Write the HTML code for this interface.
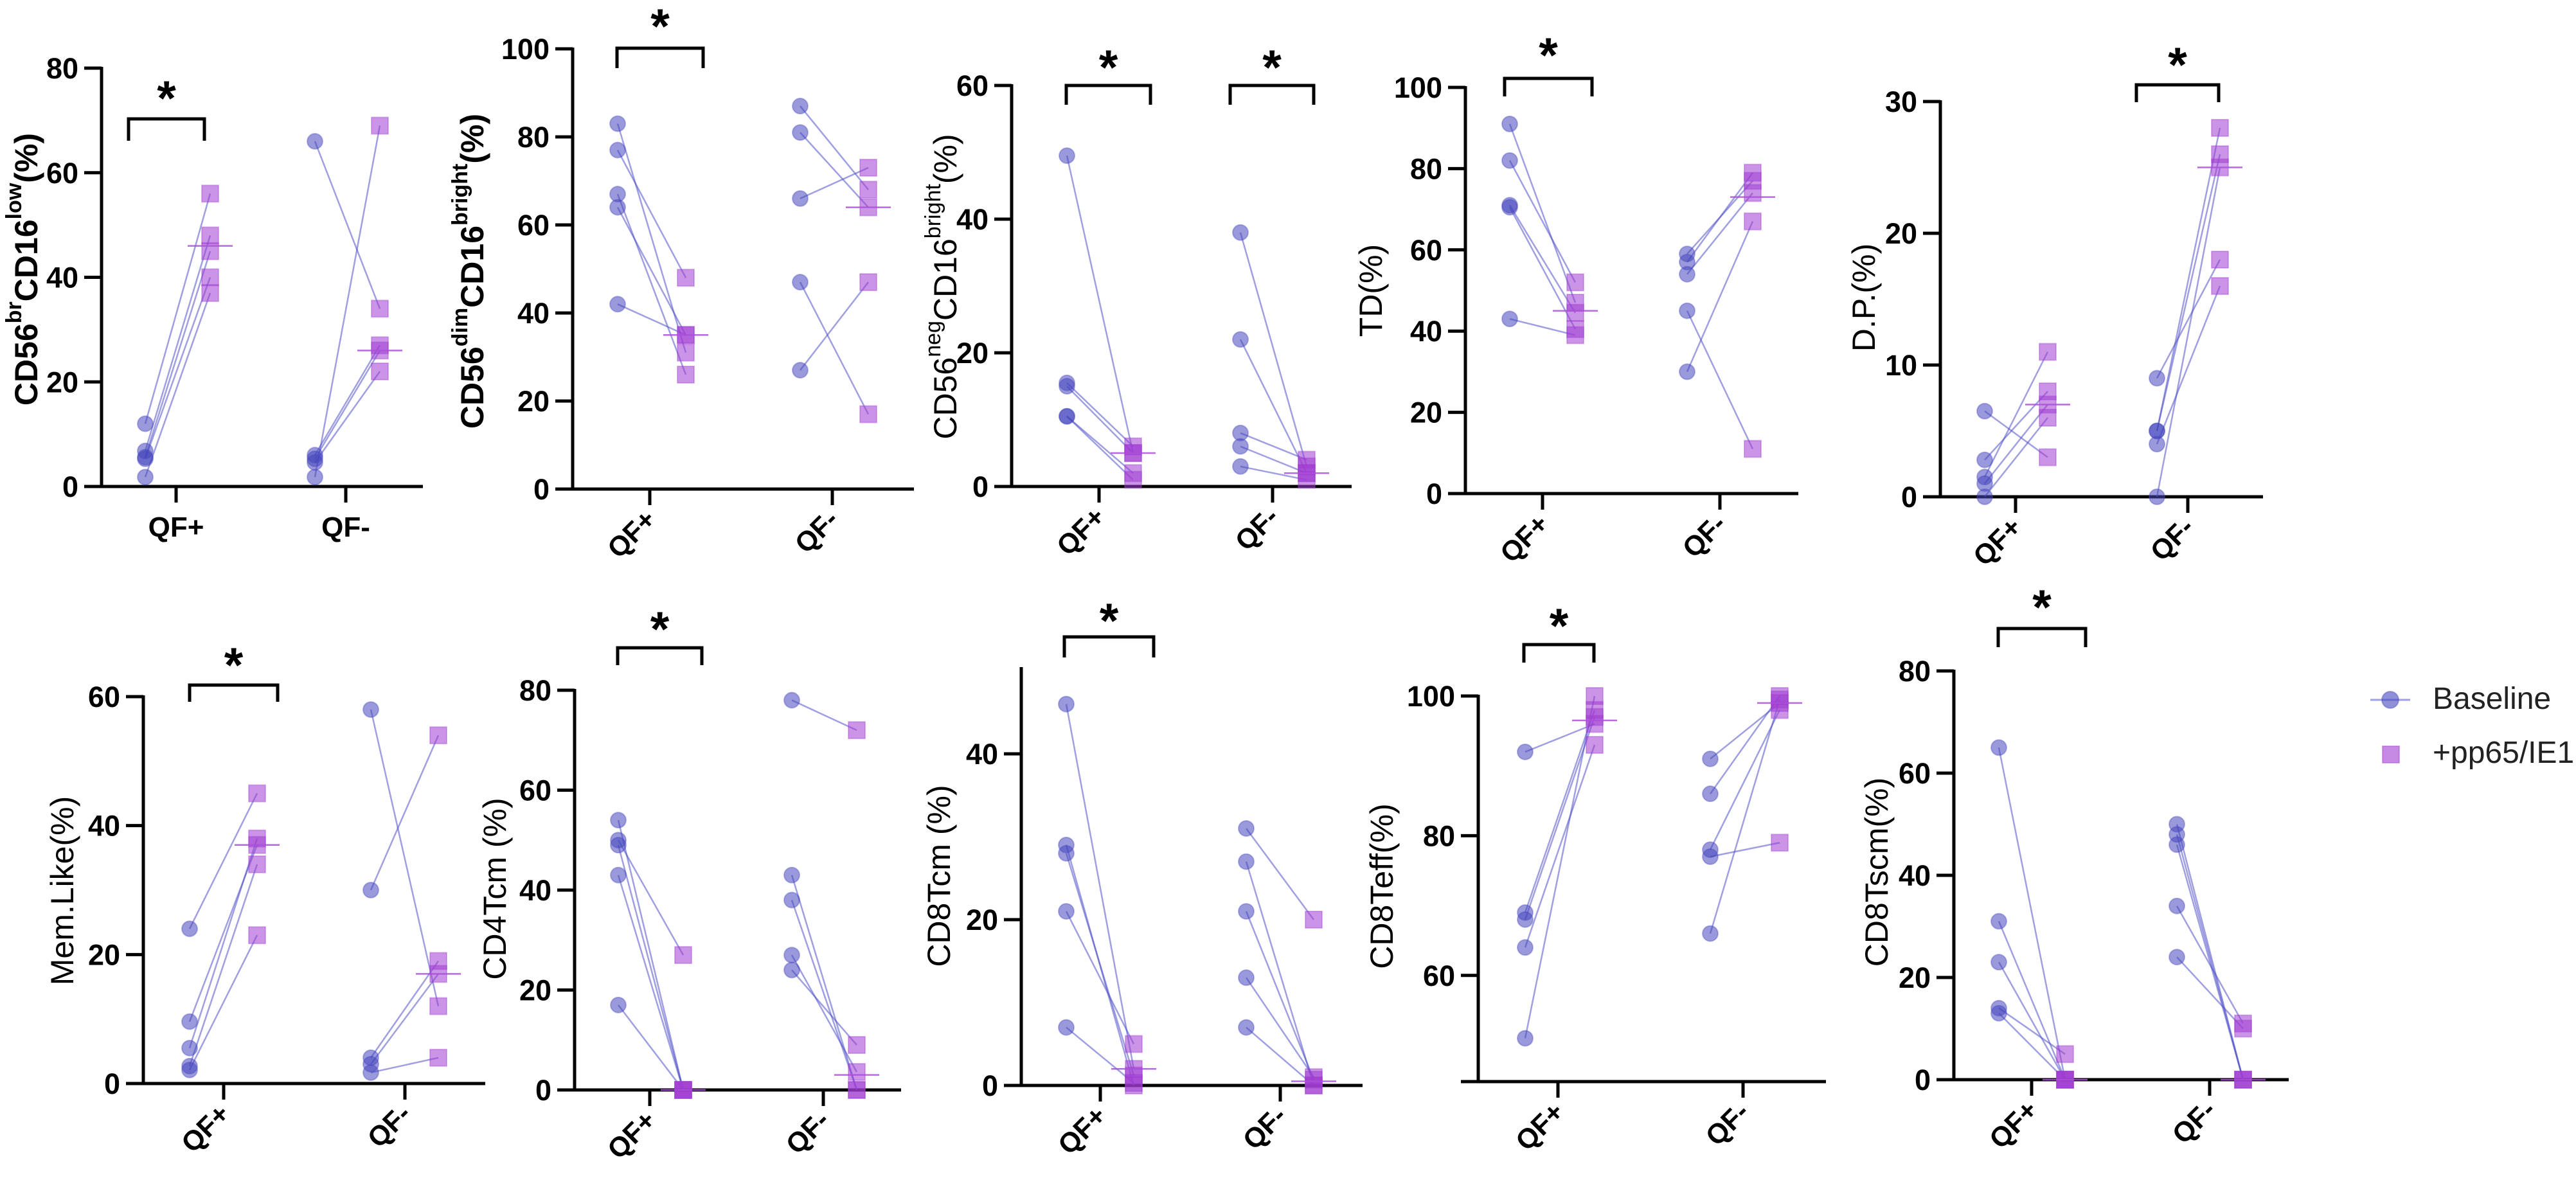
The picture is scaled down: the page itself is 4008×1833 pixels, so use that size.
<!DOCTYPE html>
<html><head><meta charset="utf-8"><style>
html,body{margin:0;padding:0;background:#fff;}
svg{display:block;}
text{font-family:"Liberation Sans",Arial,sans-serif;}
</style></head><body>
<svg id="fig" width="4008" height="1833" viewBox="0 0 4008 1833" xmlns="http://www.w3.org/2000/svg">
<g id="legend">
  <line x1="3688" y1="1089" x2="3750" y2="1089" stroke="rgba(80,80,200,0.55)" stroke-width="3"/>
  <circle cx="3719" cy="1089" r="13" fill="rgba(70,70,190,0.6)" stroke="rgba(70,70,190,0.4)" stroke-width="2"/>
  <text x="3785" y="1103" font-size="48" fill="#222">Baseline</text>
  <rect x="3707" y="1161" width="26" height="26" fill="rgba(160,60,210,0.6)" stroke="rgba(160,60,210,0.4)" stroke-width="2"/>
  <text x="3785" y="1187" font-size="48" fill="#222">+pp65/IE1</text>
</g>
</svg>
<script>
// ---- data (values in %) ----
const groups = ["QF+", "QF-"];
const p1BasePos = [12, 6.8, 5.6, 5.3, 1.8];
const p1StimPos = [56, 48, 45, 40, 37];
const p1BaseNeg = [66, 6, 5.3, 4.6, 1.8];
const p1StimNeg = [34, 27, 26, 22, 69];
const p1Median = [46, 26];
const p2BasePos = [83, 77, 67, 64, 42];
const p2StimPos = [31, 48, 26, 35, 35];
const p2BaseNeg = [87, 81, 66, 47, 27];
const p2StimNeg = [68, 64, 73, 17, 47];
const p2Median = [35, 64];
const p3BasePos = [49.5, 15.5, 15, 10.5, 10.5];
const p3StimPos = [5, 6, 5, 2, 1];
const p3BaseNeg = [38, 22, 8, 6, 3];
const p3StimNeg = [3, 2, 4, 2, 1];
const p3Median = [5, 2];
const p4BasePos = [91, 82, 71, 70.5, 43];
const p4StimPos = [47, 52, 44.5, 40.5, 39];
const p4BaseNeg = [59, 57, 54, 45, 30];
const p4StimNeg = [77, 79, 74, 11, 67];
const p4Median = [45, 73];
const p5BasePos = [6.5, 2.8, 1.5, 1, 0];
const p5StimPos = [3, 8, 11, 7, 6];
const p5BaseNeg = [9, 5, 5, 4, 0];
const p5StimNeg = [18, 28, 26, 16, 25];
const p5Median = [7, 25];
const p6BasePos = [24, 9.6, 5.5, 2.7, 2.1];
const p6StimPos = [45, 37, 38, 34, 23];
const p6BaseNeg = [58, 30, 4, 3, 1.7];
const p6StimNeg = [12, 54, 19, 17, 4];
const p6Median = [37, 17];
const p7BasePos = [54, 50, 49, 43, 17];
const p7StimPos = [0, 27, 0, 0, 0];
const p7BaseNeg = [78, 43, 38, 27, 24];
const p7StimNeg = [72, 0, 0, 3.6, 9];
const p7Median = [0, 3];
const p8BasePos = [46, 29, 28, 21, 7];
const p8StimPos = [2, 0, 1.2, 5, 0.3];
const p8BaseNeg = [31, 27, 21, 13, 7];
const p8StimNeg = [20, 0, 0.7, 1, 0];
const p8Median = [2, 0.5];
const p9BasePos = [92, 69, 68, 64, 51];
const p9StimPos = [96, 98, 97, 93, 100];
const p9BaseNeg = [91, 86, 78, 77, 66];
const p9StimNeg = [99, 100, 98, 79, 99.5];
const p9Median = [96.5, 99];
const p10BasePos = [65, 31, 23, 14, 13];
const p10StimPos = [0, 0, 0, 5, 0];
const p10BaseNeg = [50, 48, 46, 34, 24];
const p10StimNeg = [0, 0, 0, 11, 10];
const p10Median = [0, 0];

const ticks1 = [0, 20, 40, 60, 80];
const ticks2 = [0, 20, 40, 60, 80, 100];
const ticks3 = [0, 20, 40, 60];
const ticks4 = [0, 20, 40, 60, 80, 100];
const ticks5 = [0, 10, 20, 30];
const ticks6 = [0, 20, 40, 60];
const ticks7 = [0, 20, 40, 60, 80];
const ticks8 = [0, 20, 40];
const ticks9 = [60, 80, 100];
const ticks10 = [0, 20, 40, 60, 80];

const NS = "http://www.w3.org/2000/svg";
const svg = document.getElementById("fig");
function mk(tag, attrs, parent) {
  const e = document.createElementNS(NS, tag);
  for (const k in attrs) e.setAttribute(k, attrs[k]);
  (parent || svg).appendChild(e);
  return e;
}

const panels = [
  {id:"cd56br", title:[["CD56"],["br",1],["CD16"],["low",1],["(%)"]], bold:true, ax:158, y0:757, vMin:0, refV:80, refPx:106, top:106, xEnd:658, tx:[274,538], co:-48, so:53, rot:false,
   brackets:[[200,318,185,219,137]], tX:41, tY:419, ticks:ticks1, d:[p1BasePos,p1StimPos,p1BaseNeg,p1StimNeg,p1Median]},
  {id:"cd56dim", title:[["CD56"],["dim",1],["CD16"],["bright",1],["(%)"]], bold:true, ax:891, y0:761, vMin:0, refV:100, refPx:76, top:76, xEnd:1422, tx:[1011,1295], co:-50, so:56, rot:true,
   brackets:[[960,1094,75,106,25]], tX:735, tY:422, ticks:ticks2, d:[p2BasePos,p2StimPos,p2BaseNeg,p2StimNeg,p2Median]},
  {id:"cd56neg", title:[["CD56"],["neg",1],["CD16"],["bright",1],["(%)"]], bold:false, ax:1574, y0:757, vMin:0, refV:60, refPx:133, top:133, xEnd:2103, tx:[1710,1980], co:-50, so:53, rot:true,
   brackets:[[1659,1790,133,163,89],[1914,2044,133,163,89]], tX:1471, tY:446, ticks:ticks3, d:[p3BasePos,p3StimPos,p3BaseNeg,p3StimNeg,p3Median]},
  {id:"td", title:[["TD(%)"]], bold:false, ax:2280, y0:768, vMin:0, refV:100, refPx:136, top:136, xEnd:2798, tx:[2400,2676], co:-51, so:51, rot:true,
   brackets:[[2341,2477,122,150,70]], tX:2133, tY:452, ticks:ticks4, d:[p4BasePos,p4StimPos,p4BaseNeg,p4StimNeg,p4Median]},
  {id:"dp", title:[["D.P.(%)"]], bold:false, ax:3019, y0:773, vMin:0, refV:30, refPx:158, top:158, xEnd:3521, tx:[3136,3404], co:-48, so:50, rot:true,
   brackets:[[3324,3452,132,159,85]], tX:2900, tY:463, ticks:ticks5, d:[p5BasePos,p5StimPos,p5BaseNeg,p5StimNeg,p5Median]},
  {id:"memlike", title:[["Mem.Like(%)"]], bold:false, ax:223, y0:1686, vMin:0, refV:60, refPx:1084, top:1084, xEnd:755, tx:[348,630], co:-53, so:52, rot:true,
   brackets:[[295,432,1066,1092,1019]], tX:97, tY:1386, ticks:ticks6, d:[p6BasePos,p6StimPos,p6BaseNeg,p6StimNeg,p6Median]},
  {id:"cd4tcm", title:[["CD4Tcm (%)"]], bold:false, ax:894, y0:1696, vMin:0, refV:80, refPx:1074, top:1074, xEnd:1402, tx:[1011,1281], co:-49, so:52, rot:true,
   brackets:[[961,1092,1008,1035,963]], tX:770, tY:1383, ticks:ticks7, d:[p7BasePos,p7StimPos,p7BaseNeg,p7StimNeg,p7Median]},
  {id:"cd8tcm", title:[["CD8Tcm (%)"]], bold:false, ax:1589, y0:1689, vMin:0, refV:40, refPx:1173, top:1040, xEnd:2120, tx:[1712,1992], co:-53, so:52, rot:true,
   brackets:[[1656,1795,991,1023,950]], tX:1461, tY:1363, ticks:ticks8, d:[p8BasePos,p8StimPos,p8BaseNeg,p8StimNeg,p8Median]},
  {id:"cd8teff", title:[["CD8Teff(%)"]], bold:false, ax:2300, y0:1683, vMin:44.8, refV:100, refPx:1083, top:1083, xEnd:2841, tx:[2424,2712], co:-51, so:57, rot:true,
   brackets:[[2371,2480,1003,1031,958]], tX:2150, tY:1379, ticks:ticks9, d:[p9BasePos,p9StimPos,p9BaseNeg,p9StimNeg,p9Median]},
  {id:"cd8tscm", title:[["CD8Tscm(%)"]], bold:false, ax:3040, y0:1680, vMin:0, refV:80, refPx:1044, top:1044, xEnd:3561, tx:[3161,3438], co:-51, so:52, rot:true,
   brackets:[[3109,3245,978,1007,929]], tX:2920, tY:1357, ticks:ticks10, d:[p10BasePos,p10StimPos,p10BaseNeg,p10StimNeg,p10Median]}
];

panels.forEach(p => {
  const g = mk("g", {});
  
  
  const yScale = v => p.y0 - (v - p.vMin) / (p.refV - p.vMin) * (p.y0 - p.refPx);
  const ya = mk("line", {x1:p.ax, y1:p.top - 2, x2:p.ax, y2:p.y0, stroke:"#000", "stroke-width":5}, g);
  
  
  const xa = mk("line", {x1:p.ax - 27, y1:p.y0, x2:p.xEnd, y2:p.y0, stroke:"#000", "stroke-width":5}, g);
  
  
  p.ticks.forEach(t => {
    const y = yScale(t);
    mk("line", {x1:p.ax - 27, y1:y, x2:p.ax, y2:y, stroke:"#000", "stroke-width":5}, g);
    const tl = mk("text", {x:p.ax - 36, y:y + 16, "font-size":45, "font-weight":"bold", "text-anchor":"end"}, g);
    tl.textContent = t;
    
    
  });
  p.tx.forEach((x, i) => {
    mk("line", {x1:x, y1:p.y0, x2:x, y2:p.y0 + 25, stroke:"#000", "stroke-width":5}, g);
    let lab;
    if (p.rot) {
      const lx = x + 12, ly = p.y0 + 50;
      lab = mk("text", {x:lx, y:ly, "font-size":43, "font-weight":"bold", "text-anchor":"end", transform:`rotate(-45 ${lx} ${ly})`}, g);
    } else {
      lab = mk("text", {x:x, y:p.y0 + 78, "font-size":44, "font-weight":"bold", "text-anchor":"middle"}, g);
    }
    lab.textContent = groups[i];
    
    
  });
  const tt = mk("text", {x:p.tX, y:p.tY, "font-size":50, "font-weight":p.bold ? "bold" : "normal", "text-anchor":"middle", "dominant-baseline":"central", transform:`rotate(-90 ${p.tX} ${p.tY})`}, g);
  
  
  p.title.forEach(part => {
    const ts = mk("tspan", {}, tt);
    if (part[1]) { ts.setAttribute("baseline-shift", "super"); ts.setAttribute("font-size", "34"); }
    ts.textContent = part[0];
  });
  p.brackets.forEach(b => {
    const br = mk("path", {d:`M${b[0]} ${b[3]} V${b[2]} H${b[1]} V${b[3]}`, fill:"none", stroke:"#000", "stroke-width":5}, g);
    
    
    const st = mk("text", {x:(b[0] + b[1]) / 2, y:b[4] + 42, "font-size":76, "font-weight":"bold", "text-anchor":"middle"}, g);
    st.textContent = "*";
    
    
  });
  const [bp, sp, bn, sn, med] = p.d;
  const sets = [[bp, sp, p.tx[0]], [bn, sn, p.tx[1]]];
  sets.forEach(([base, stim, tx], gi) => {
    const cx = tx + p.co, sx = tx + p.so;
    base.forEach((v, i) => {
      const ln = mk("line", {x1:cx, y1:yScale(v), x2:sx, y2:yScale(stim[i]), stroke:"rgba(80,80,200,0.55)", "stroke-width":2.5}, g);
      
      
    });
    base.forEach(v => {
      const c = mk("circle", {cx:cx, cy:yScale(v), r:12, fill:"rgba(70,70,190,0.55)", stroke:"rgba(70,70,190,0.35)", "stroke-width":2}, g);
      
      
    });
    stim.forEach(v => {
      const r = mk("rect", {x:sx - 13, y:yScale(v) - 13, width:26, height:26, fill:"rgba(160,60,210,0.55)", stroke:"rgba(160,60,210,0.35)", "stroke-width":2}, g);
      
      
    });
    const m = mk("line", {x1:sx - 35, y1:yScale(med[gi]), x2:sx + 35, y2:yScale(med[gi]), stroke:"rgba(170,80,215,0.85)", "stroke-width":2.5}, g);
    
    
  });
});
</script>
</body></html>
